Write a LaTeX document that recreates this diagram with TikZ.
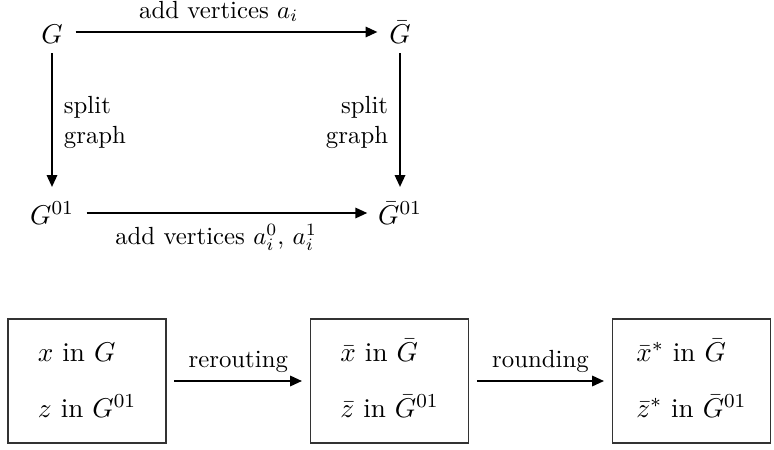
\documentclass[tikz,border=0pt]{standalone}
\usetikzlibrary{arrows.meta}
\begin{document}
\begin{tikzpicture}[x=0.4032pt,y=-0.4032pt,
  obj/.style={inner sep=0pt, text height=9pt, text depth=0pt, font=\fontsize{10.95}{13.6}\selectfont},
  arr/.style={line width=0.8pt, -{Triangle[length=4.8pt,width=4.2pt]}},
  lbl/.style={inner sep=0pt},
  boxnode/.style={draw=black!80, line width=0.45pt, minimum width=63.7pt, minimum height=50pt, inner sep=0pt, align=left, font=\fontsize{10.95}{13.6}\selectfont}]
\useasboundingbox (0,0) rectangle (774,450);

% top commutative square
\node[obj] (G) at (52,32) {$G$};
\node[obj] (Gb) at (400,32) {$\bar{G}$};
\node[obj] (G01) at (52,213) {$G^{01}$};
\node[obj] (Gb01) at (400,213) {$\bar{G}^{01}$};

\draw[arr, shorten <=5pt, shorten >=4.6pt] (G) -- node[lbl, anchor=base, xshift=-2.9pt, yshift=5.6pt] {add vertices $a_i$} (Gb);
\draw[arr, shorten <=3.8pt, shorten >=5.8pt] (G) -- node[lbl, anchor=west, align=left, xshift=4.4pt] {split\\graph} (G01);
\draw[arr, shorten <=3.8pt, shorten >=5.8pt] (Gb) -- node[lbl, anchor=east, align=right, xshift=-4.4pt] {split\\graph} (Gb01);
\draw[arr, shorten <=5pt, shorten >=4.2pt] (G01) -- node[lbl, anchor=base, xshift=-4pt, yshift=-12.5pt] {add vertices $a_i^0$, $a_i^1$} (Gb01);

% bottom pipeline
\node[boxnode] (b1) at (87,381) {$x$ in $G\vphantom{\bar{G}}$\\[9pt]$z$ in $G^{01}$\rule[-2.5pt]{0pt}{2.5pt}};
\node[boxnode] (b2) at (389.5,381) {$\bar{x}$ in $\bar{G}$\\[9pt]$\bar{z}$ in $\bar{G}^{01}$\rule[-2.5pt]{0pt}{2.5pt}};
\node[boxnode] (b3) at (691.5,381) {$\bar{x}^*$ in $\bar{G}$\\[9pt]$\bar{z}^*$ in $\bar{G}^{01}$\rule[-2.5pt]{0pt}{2.5pt}};

\draw[arr, shorten <=3.2pt, shorten >=3.2pt] (b1) -- node[lbl, anchor=base, yshift=5.6pt] {rerouting} (b2);
\draw[arr, shorten <=3.2pt, shorten >=3.2pt] (b2) -- node[lbl, anchor=base, yshift=5.6pt] {rounding} (b3);
\end{tikzpicture}
\end{document}
